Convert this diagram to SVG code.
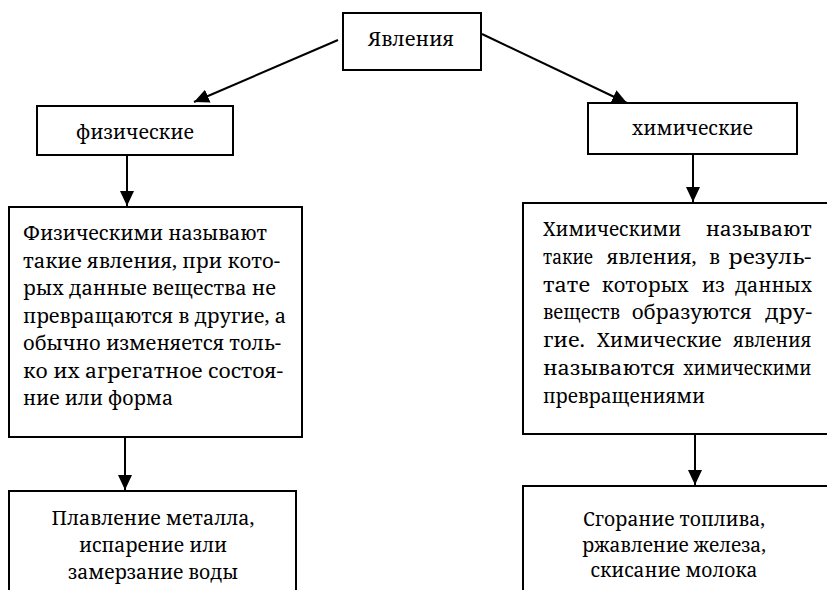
<svg xmlns="http://www.w3.org/2000/svg" width="827" height="590" viewBox="0 0 827 590">
<defs>
<marker id="ah" markerUnits="userSpaceOnUse" markerWidth="16" markerHeight="16" viewBox="0 0 16 16" refX="15" refY="8" orient="auto">
<path d="M0,1 L15,8 L0,15 Z" fill="#000"/>
</marker>
<style>
.box{fill:#fff;stroke:#000;stroke-width:2}
.t{font-family:"Noto Serif","DejaVu Serif",serif;font-size:20px;fill:#000}
.c{text-anchor:middle}
.con line{stroke:#000;stroke-width:2;marker-end:url(#ah)}
</style>
</defs>
<rect width="827" height="590" fill="#fff"/>
<g class="con" id="connectors">
<line x1="338" y1="40" x2="194" y2="102"/>
<line x1="482" y1="34" x2="627" y2="103"/>
<line x1="127" y1="155" x2="127" y2="206"/>
<line x1="693" y1="154" x2="693" y2="202"/>
<line x1="125" y1="437" x2="125" y2="490"/>
<line x1="695" y1="434" x2="695" y2="485"/>
</g>
<g id="n_root">
<rect class="box" x="343" y="13" width="138" height="57"/>
<text class="t c" x="411" y="46" textLength="86" lengthAdjust="spacingAndGlyphs">Явления</text>
</g>
<g id="n_phys">
<rect class="box" x="37" y="106" width="196" height="49"/>
<text class="t c" x="135" y="139" textLength="118" lengthAdjust="spacingAndGlyphs">физические</text>
</g>
<g id="n_chem">
<rect class="box" x="588" y="103" width="209" height="51"/>
<text class="t c" x="692.5" y="135" textLength="121" lengthAdjust="spacingAndGlyphs">химические</text>
</g>
<g id="n_phys_def">
<rect class="box" x="9" y="207" width="293" height="230"/>
<text class="t" x="23" y="240" textLength="244" lengthAdjust="spacingAndGlyphs">Физическими называют</text>
<text class="t" x="23" y="267.5" textLength="257" lengthAdjust="spacingAndGlyphs">такие явления, при кото-</text>
<text class="t" x="23" y="295" textLength="253" lengthAdjust="spacingAndGlyphs">рых данные вещества не</text>
<text class="t" x="23" y="322.5" textLength="263" lengthAdjust="spacingAndGlyphs">превращаются в другие, а</text>
<text class="t" x="23" y="350" textLength="258" lengthAdjust="spacingAndGlyphs">обычно изменяется толь-</text>
<text class="t" x="23" y="377.5" textLength="260" lengthAdjust="spacingAndGlyphs">ко их агрегатное состоя-</text>
<text class="t" x="23" y="405" textLength="150" lengthAdjust="spacingAndGlyphs">ние или форма</text>
</g>
<g id="n_chem_def">
<rect class="box" x="523" y="203" width="310" height="231"/>
<text class="t" x="543" y="236" textLength="138" lengthAdjust="spacingAndGlyphs">Химическими</text>
<text class="t" x="705.7" y="236" textLength="106" lengthAdjust="spacingAndGlyphs">называют</text>
<text class="t" x="543" y="263.8" textLength="50" lengthAdjust="spacingAndGlyphs">такие</text>
<text class="t" x="606.7" y="263.8" textLength="90" lengthAdjust="spacingAndGlyphs">явления,</text>
<text class="t" x="709" y="263.8" textLength="11" lengthAdjust="spacingAndGlyphs">в</text>
<text class="t" x="728.3" y="263.8" textLength="83" lengthAdjust="spacingAndGlyphs">резуль-</text>
<text class="t" x="543" y="291.6" textLength="47" lengthAdjust="spacingAndGlyphs">тате</text>
<text class="t" x="601.7" y="291.6" textLength="87" lengthAdjust="spacingAndGlyphs">которых</text>
<text class="t" x="701.7" y="291.6" textLength="23" lengthAdjust="spacingAndGlyphs">из</text>
<text class="t" x="735" y="291.6" textLength="77" lengthAdjust="spacingAndGlyphs">данных</text>
<text class="t" x="543" y="319.4" textLength="77" lengthAdjust="spacingAndGlyphs">веществ</text>
<text class="t" x="631.7" y="319.4" textLength="120" lengthAdjust="spacingAndGlyphs">образуются</text>
<text class="t" x="765" y="319.4" textLength="47" lengthAdjust="spacingAndGlyphs">дру-</text>
<text class="t" x="543" y="347.2" textLength="42" lengthAdjust="spacingAndGlyphs">гие.</text>
<text class="t" x="596.7" y="347.2" textLength="125" lengthAdjust="spacingAndGlyphs">Химические</text>
<text class="t" x="733.3" y="347.2" textLength="78" lengthAdjust="spacingAndGlyphs">явления</text>
<text class="t" x="543" y="375" textLength="132" lengthAdjust="spacingAndGlyphs">называются</text>
<text class="t" x="683.3" y="375" textLength="128" lengthAdjust="spacingAndGlyphs">химическими</text>
<text class="t" x="543" y="403" textLength="162" lengthAdjust="spacingAndGlyphs">превращениями</text>
</g>
<g id="n_phys_ex">
<rect class="box" x="9" y="491" width="287" height="110"/>
<text class="t c" x="153" y="525" textLength="203" lengthAdjust="spacingAndGlyphs">Плавление металла,</text>
<text class="t c" x="153" y="552" textLength="148" lengthAdjust="spacingAndGlyphs">испарение или</text>
<text class="t c" x="153" y="579" textLength="170" lengthAdjust="spacingAndGlyphs">замерзание воды</text>
</g>
<g id="n_chem_ex">
<rect class="box" x="523" y="486" width="310" height="115"/>
<text class="t c" x="674" y="526" textLength="182" lengthAdjust="spacingAndGlyphs">Сгорание топлива,</text>
<text class="t c" x="674" y="552" textLength="184" lengthAdjust="spacingAndGlyphs">ржавление железа,</text>
<text class="t c" x="674" y="577" textLength="167" lengthAdjust="spacingAndGlyphs">скисание молока</text>
</g>
</svg>
